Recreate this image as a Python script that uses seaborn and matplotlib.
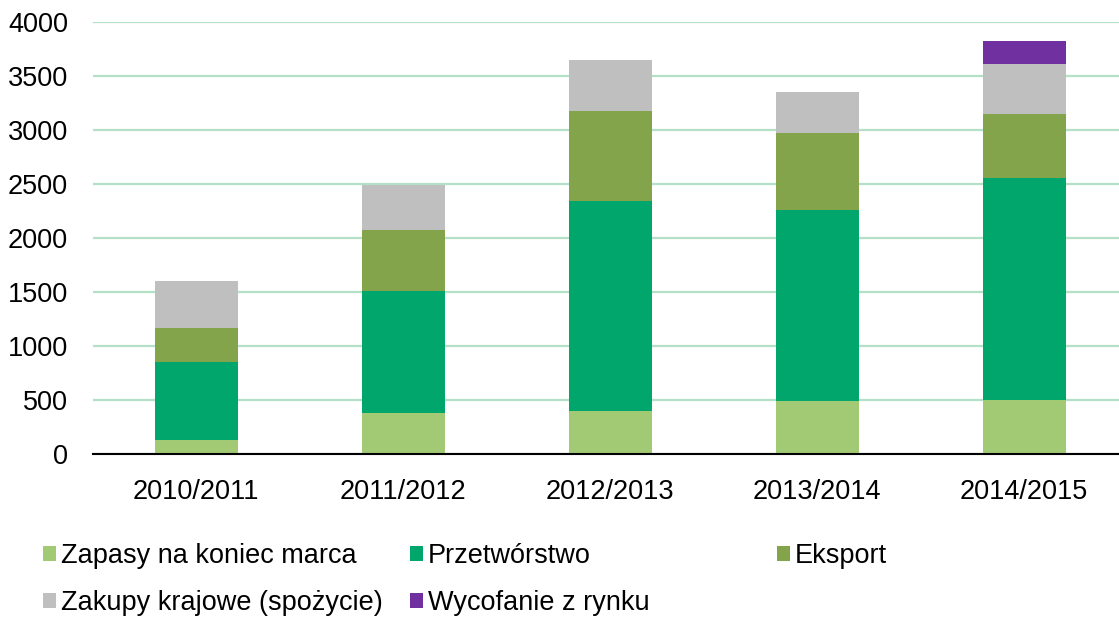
import matplotlib
matplotlib.use('Agg')
import matplotlib.pyplot as plt
import matplotlib.patches as mpatches
import numpy as np
import pandas as pd
import seaborn as sns

# Data
seasons = ['2010/2011', '2011/2012', '2012/2013', '2013/2014', '2014/2015']
zapasy = [125, 380, 395, 490, 500]
przetworstwo = [730, 1130, 1950, 1765, 2050]
eksport = [310, 565, 830, 715, 600]
zakupy = [435, 415, 470, 375, 455]
wycofanie = [0, 0, 0, 0, 215]

series_names = ['Zapasy na koniec marca', 'Przetwórstwo', 'Eksport',
                'Zakupy krajowe (spożycie)', 'Wycofanie z rynku']
series_values = [zapasy, przetworstwo, eksport, zakupy, wycofanie]
colors = ['#A2C974', '#00A66B', '#84A44C', '#BFBFBF', '#7030A0']

sns.set_style('white')
plt.rcParams['font.family'] = ['Liberation Sans', 'DejaVu Sans']
plt.rcParams['text.color'] = 'black'

fig = plt.figure(figsize=(11.19, 6.17), dpi=100)
ax = fig.add_axes([92.7 / 1119, 163 / 617, 1 - 92.7 / 1119, (454 - 21.7) / 617])

# Cumulative totals, drawn from the top segment down so lower ones overlay
cum = np.cumsum(np.array(series_values), axis=0)
for i in range(len(series_names) - 1, -1, -1):
    df = pd.DataFrame({'Sezon': seasons, 'Wartość': cum[i]})
    sns.barplot(data=df, x='Sezon', y='Wartość', color=colors[i],
                width=0.4, saturation=1, linewidth=0, ax=ax, zorder=3)

# Axes styling
ax.set_ylim(0, 4000)
ax.set_xlim(-0.5, 4.458)
ax.set_yticks(range(0, 4001, 500))
ax.yaxis.grid(True, color='#B3E0C6', linewidth=1.6, zorder=0)
ax.set_axisbelow(True)
ax.set_xlabel('')
ax.set_ylabel('')
for side in ['top', 'right', 'left']:
    ax.spines[side].set_visible(False)
ax.spines['bottom'].set_color('black')
ax.spines['bottom'].set_linewidth(1.5)
ax.spines['bottom'].set_zorder(4)

ax.tick_params(axis='y', length=0, pad=17.8, labelsize=19.5, labelcolor='black')
ax.tick_params(axis='x', which='major', length=0, pad=18, labelsize=19.5, labelcolor='black')
ax.set_xticks(np.arange(-0.5, 4.5, 1.0), minor=True)
ax.tick_params(axis='x', which='minor', direction='out', length=7, width=1.5, color='black')

# Legend, placed column by column as in the reference
handles = [mpatches.Patch(facecolor=c, edgecolor='none') for c in colors]
columns = [([0, 3], 43), ([1, 4], 410), ([2], 777)]
for idx, xpix in columns:
    fig.legend([handles[k] for k in idx], [series_names[k] for k in idx],
               loc='upper left', bbox_to_anchor=(xpix / 1119, 1 - 543 / 617),
               frameon=False, fontsize=19.5, handlelength=0.48, handleheight=0.48,
               handletextpad=0.18, labelspacing=0.77, borderaxespad=0, borderpad=0,
               labelcolor='black')

fig.savefig('out.png', dpi=100)
